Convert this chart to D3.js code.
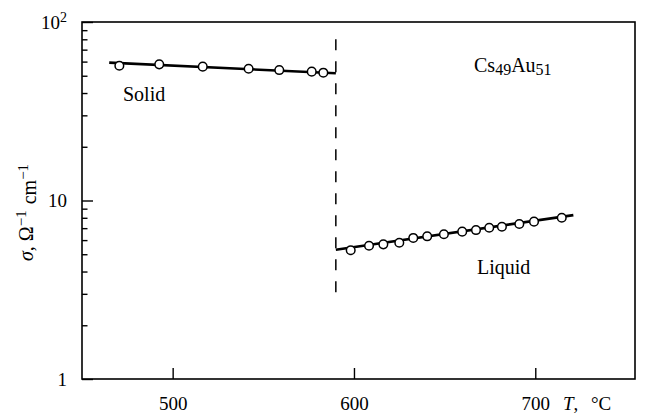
<!DOCTYPE html>
<html>
<head>
<meta charset="utf-8">
<script src="https://cdn.jsdelivr.net/npm/d3@7"></script>
<style>
  html, body { margin: 0; padding: 0; background: #fff; }
  svg { display: block; }
  svg text { font-family: "Liberation Serif", "Times New Roman", serif !important; fill: #000; font-weight: normal; }
</style>
</head>
<body>
<svg id="chart" width="661" height="414" font-family="Liberation Serif"></svg>
<script>
// Electrical conductivity of Cs49Au51 versus temperature
const solidT     = [470.6, 492.6, 516.6, 541.9, 558.8, 576.7, 583.1];
const solidSigma = [56.9, 57.9, 56.2, 54.7, 53.8, 52.7, 52.0];

const liquidT     = [598.2, 608.3, 616.2, 625.0, 632.7, 640.4, 649.6, 659.7, 667.3, 674.6, 681.6, 691.2, 699.3, 714.6];
const liquidSigma = [5.26, 5.58, 5.68, 5.80, 6.17, 6.30, 6.47, 6.69, 6.83, 7.04, 7.13, 7.38, 7.61, 8.01];

// fitted lines (endpoints) and melting transition
const solidFitT     = [465, 590];
const solidFitSigma = [59.2, 51.6];
const liquidFitT     = [590, 721];
const liquidFitSigma = [5.30, 8.28];
const meltT = 590;
const meltSigma = [80, 3];

const xTicks = [500, 600, 700];
const yMajor = [1, 10, 100];
const yMinor = [2, 3, 4, 5, 6, 7, 8, 9, 20, 30, 40, 50, 60, 70, 80, 90];

const FONT = "Liberation Serif";
const svg = d3.select("#chart");
const x = d3.scaleLinear().domain([450, 755]).range([82, 635]);
const y = d3.scaleLog().domain([1, 100]).range([379, 22]);

// frame
svg.append("rect")
  .attr("x", x.range()[0]).attr("y", y.range()[1])
  .attr("width", x.range()[1] - x.range()[0])
  .attr("height", y.range()[0] - y.range()[1])
  .attr("fill", "none").attr("stroke", "#000").attr("stroke-width", 1.6);

// x axis: inward ticks
const xAxis = svg.append("g")
  .attr("transform", `translate(0,${y.range()[0]})`)
  .call(d3.axisBottom(x).tickValues(xTicks).tickSize(-11).tickFormat(d3.format("d")))
  .attr("font-family", FONT).attr("font-size", 19);
xAxis.select(".domain").remove();
xAxis.selectAll(".tick line").attr("stroke-width", 1.4);
xAxis.selectAll(".tick text").attr("y", 31).attr("dy", 0);

// y axis: minor and major inward ticks
const yMinorAxis = svg.append("g")
  .attr("transform", `translate(${x.range()[0]},0)`)
  .call(d3.axisLeft(y).tickValues(yMinor).tickSize(-5.5).tickFormat(""));
yMinorAxis.select(".domain").remove();
yMinorAxis.selectAll(".tick line").attr("stroke-width", 1.4);

const yAxis = svg.append("g")
  .attr("transform", `translate(${x.range()[0]},0)`)
  .call(d3.axisLeft(y).tickValues(yMajor).tickSize(-11).tickFormat(""));
yAxis.select(".domain").remove();
yAxis.selectAll(".tick line").attr("stroke-width", 1.4);

// y tick labels
const yLab = svg.append("g").attr("font-family", FONT).attr("font-size", 19);
yMajor.forEach(v => {
  const t = yLab.append("text")
    .attr("x", 67).attr("y", y(v)).attr("dy", "0.35em")
    .attr("text-anchor", "end");
  if (v === 100) {
    t.append("tspan").text("10");
    t.append("tspan").attr("dy", "-0.45em").attr("font-size", 14).text("2");
  } else {
    t.text(v);
  }
});

// axis titles
const xt = svg.append("text").attr("x", 563).attr("y", 410)
  .attr("font-family", FONT).attr("font-size", 19);
xt.append("tspan").attr("font-style", "italic").text("T");
xt.append("tspan").text(",");
xt.append("tspan").attr("x", 591).text("°C");

const yt = svg.append("text")
  .attr("transform", "translate(33,261) rotate(-90)")
  .attr("font-family", FONT).attr("font-size", 20);
yt.append("tspan").attr("font-style", "italic").text("σ");
yt.append("tspan").text(", Ω");
yt.append("tspan").attr("dy", "-0.5em").attr("font-size", 15).text("\u22121");
yt.append("tspan").attr("dy", "0.5em").attr("dx", 6).text("cm");
yt.append("tspan").attr("dy", "-0.5em").attr("font-size", 15).text("\u22121");

// melting transition
svg.append("line")
  .attr("x1", x(meltT)).attr("x2", x(meltT))
  .attr("y1", y(meltSigma[0])).attr("y2", y(meltSigma[1]))
  .attr("stroke", "#000").attr("stroke-width", 1.5)
  .attr("stroke-dasharray", "11,11");

// fitted lines
const line = d3.line().x(d => x(d[0])).y(d => y(d[1]));
[[solidFitT, solidFitSigma], [liquidFitT, liquidFitSigma]].forEach(([ts, ss]) => {
  svg.append("path")
    .datum(ts.map((t, i) => [t, ss[i]]))
    .attr("d", line)
    .attr("fill", "none").attr("stroke", "#000").attr("stroke-width", 2.6);
});

// measured points
const pts = solidT.map((t, i) => [t, solidSigma[i]])
  .concat(liquidT.map((t, i) => [t, liquidSigma[i]]));
svg.append("g").selectAll("circle").data(pts).join("circle")
  .attr("cx", d => x(d[0])).attr("cy", d => y(d[1])).attr("r", 4.3)
  .attr("fill", "#fff").attr("stroke", "#000").attr("stroke-width", 1.5);

// labels
svg.append("text").attr("x", 123).attr("y", 101)
  .attr("font-family", FONT).attr("font-size", 20).text("Solid");
svg.append("text").attr("x", 477).attr("y", 274)
  .attr("font-family", FONT).attr("font-size", 20).text("Liquid");

const comp = svg.append("text").attr("x", 474).attr("y", 72)
  .attr("font-family", FONT).attr("font-size", 20);
comp.append("tspan").text("Cs");
comp.append("tspan").attr("dy", 3).attr("font-size", 16).text("49");
comp.append("tspan").attr("dy", -3).text("Au");
comp.append("tspan").attr("dy", 3).attr("font-size", 16).text("51");
</script>
</body>
</html>
